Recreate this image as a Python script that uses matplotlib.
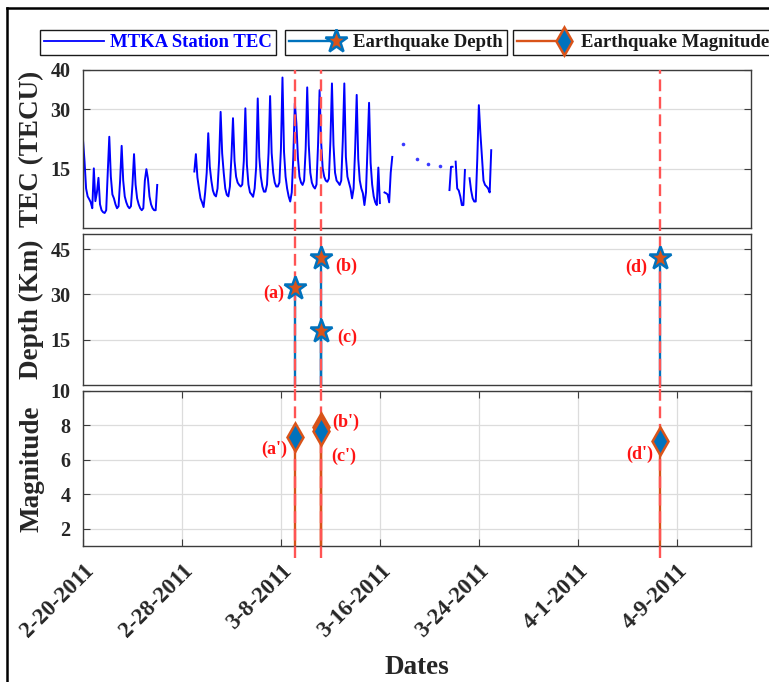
import numpy as np
import pandas as pd
import matplotlib
matplotlib.use('Agg')
import matplotlib.pyplot as plt
from matplotlib.lines import Line2D
from matplotlib.legend_handler import HandlerLine2D

plt.rcParams['font.family'] = ['Liberation Serif', 'DejaVu Serif']
plt.rcParams['font.weight'] = 'bold'
plt.rcParams['axes.labelweight'] = 'bold'

# ---------------- data ----------------
nan = np.nan
tec_step = '3h'
tec_seg1_start = '2011-02-20 00:00'
tec_seg1 = [22.3, 16.8, 10.0, 8.0, 7.3, 6.5, 5.0, 15.1,
            6.8, 9.0, 12.7, 6.0, 4.5, 4.0, 3.8, 4.5,
            14.0, 23.1, 13.0, 8.5, 7.5, 6.0, 5.0, 5.5,
            12.0, 20.8, 12.0, 8.0, 6.5, 5.5, 5.0, 5.5,
            11.0, 18.7, 11.0, 7.5, 6.0, 5.0, 4.5, 5.0,
            12.0, 14.9, 12.5, 8.0, 6.0, 5.0, 4.5, 4.5,
            10.9]
tec_seg2_start = '2011-03-01 00:00'
tec_seg2 = [14.3, 18.7, 12.8, 10.0, 7.5, 6.5, 5.3, 9.0,
            14.0, 24.0, 15.5, 12.0, 9.5, 8.4, 8.0, 10.0,
            17.0, 29.4, 18.9, 14.0, 10.0, 8.4, 8.0, 10.5,
            18.0, 27.8, 17.0, 13.0, 11.5, 10.9, 10.5, 11.0,
            17.0, 30.3, 16.0, 11.0, 9.0, 8.5, 7.9, 10.0,
            15.5, 32.8, 18.0, 13.0, 10.5, 9.2, 9.2, 11.0,
            19.0, 33.4, 19.0, 14.0, 11.5, 10.5, 10.5, 11.5,
            20.0, 38.1, 19.3, 13.0, 10.0, 8.0, 6.7, 9.0,
            18.0, 31.6, 26.5, 17.7, 13.0, 11.5, 10.9, 12.0,
            20.0, 35.6, 21.0, 14.0, 11.5, 10.5, 10.0, 11.0,
            21.0, 34.9, 21.8, 15.1, 13.0, 12.0, 11.7, 12.5,
            22.0, 36.6, 21.0, 14.0, 12.0, 11.5, 10.9, 12.0,
            22.0, 36.6, 18.0, 13.0, 11.5, 10.0, 7.5, 10.0,
            20.0, 33.7, 17.5, 12.0, 10.0, 8.8, 5.8, 9.0,
            20.0, 31.7, 16.5, 11.0, 8.0, 6.5, 5.8, 15.3,
            6.3, nan, nan, 9.0, 8.8, 8.5, 6.5, 14.0,
            18.0]
tec_seg3_start = '2011-03-21 15:00'
tec_seg3 = [9.6, 15.5, 15.5, nan, 16.8, 10.0, 9.5, 8.0, 5.8, 5.8,
            14.7, nan, nan, 12.6, 9.5, 7.5, 6.7, 6.7, 17.6, 31.1,
            24.0, 18.0, 12.0, 10.9, 10.5, 10.0, 9.0, 19.7]
tec_dot_times = ['2011-03-17 21:00', '2011-03-19 00:00', '2011-03-19 21:00', '2011-03-20 21:00']
tec_dot_values = [21.3, 17.4, 16.1, 15.7]

eq_times = ['2011-03-09 02:45', '2011-03-11 05:46', '2011-03-11 05:46', '2011-04-07 14:32']
eq_depth = [32, 42, 18, 42]
eq_mag = [7.3, 7.9, 7.7, 7.1]
depth_labels = ['(a)', '(b)', '(c)', '(d)']
mag_labels = ["(a')", "(b')", "(c')", "(d')"]

x_range = ['2011-02-20', '2011-04-15']
xtick_dates = ['2011-02-20', '2011-02-28', '2011-03-08', '2011-03-16',
               '2011-03-24', '2011-04-01', '2011-04-09']
xtick_labels = ['2-20-2011', '2-28-2011', '3-8-2011', '3-16-2011',
                '3-24-2011', '4-1-2011', '4-9-2011']
tec_yticks = [15, 30, 40]
depth_yticks = [15, 30, 45]
mag_yticks = [2, 4, 6, 8, 10]
tec_ylim = (0, 40)
depth_ylim = (0, 50)
mag_ylim = (1, 10)

legend_texts = ['MTKA Station TEC', 'Earthquake Depth', 'Earthquake Magnitude']
ylabels = ['TEC (TECU)', 'Depth (Km)', 'Magnitude']
xlabel = 'Dates'

# ---------------- style ----------------
BLUE = '#0072BD'
ORANGE = '#D95319'
DASH_RED = (1.0, 0.33, 0.33)
LABEL_RED = '#ff1414'
TXT = '#262626'
SPINE = '#3c3c3c'
GRID = '#dcdcdc'

W, H = 769, 682
fig = plt.figure(figsize=(W / 100, H / 100), dpi=100)


def rect(l, t, r, b):
    return [l / W, 1 - b / H, (r - l) / W, (b - t) / H]


ax1 = fig.add_axes(rect(83, 70, 751, 228))
ax2 = fig.add_axes(rect(83, 234, 751, 385))
ax3 = fig.add_axes(rect(83, 391, 751, 546))

xlo, xhi = pd.Timestamp(x_range[0]), pd.Timestamp(x_range[1])
for ax in (ax1, ax2, ax3):
    ax.set_xlim(xlo, xhi)
    for s in ax.spines.values():
        s.set_color(SPINE)
        s.set_linewidth(1.0)
    ax.tick_params(axis='y', which='both', direction='in', left=True, right=True,
                   length=5, width=0.8, color=SPINE, labelsize=14.5,
                   labelcolor=TXT, pad=9)
    ax.grid(axis='y', color=GRID, lw=0.9)
    ax.set_axisbelow(True)

for ax in (ax1, ax2):
    ax.tick_params(axis='x', which='both', bottom=False, top=False,
                   labelbottom=False)

# ---- TEC ----
def seg_times(start, n):
    return pd.date_range(start, periods=n, freq=tec_step)

tec_kw = dict(color='#0000ff', lw=1.4, zorder=2)
ax1.plot(seg_times(tec_seg1_start, len(tec_seg1)), tec_seg1, **tec_kw)
ax1.plot(seg_times(tec_seg2_start, len(tec_seg2)), tec_seg2, **tec_kw)
ax1.plot(seg_times(tec_seg3_start, len(tec_seg3)), tec_seg3, **tec_kw)
ax1.plot(pd.to_datetime(tec_dot_times), tec_dot_values, linestyle='none',
         marker='o', ms=2.6, mew=0, color='#3a3aff', zorder=2)
ax1.set_ylim(*tec_ylim)
ax1.set_yticks(tec_yticks)

eq_t = pd.to_datetime(eq_times)
unique_t = sorted(set(eq_t))

# ---- Depth ----
ax2.vlines(eq_t, depth_ylim[0], eq_depth, color=BLUE, lw=1.7, zorder=2)
ax2.plot(eq_t, eq_depth, linestyle='none', marker='*', ms=17, mfc=ORANGE,
         mec=BLUE, mew=1.8, zorder=5, clip_on=False)
ax2.set_ylim(*depth_ylim)
ax2.set_yticks(depth_yticks)

# ---- Magnitude ----
ax3.vlines(eq_t, mag_ylim[0], eq_mag, color=ORANGE, lw=1.7, zorder=2)
ax3.plot(eq_t, eq_mag, linestyle='none', marker='d', ms=14, mfc=BLUE,
         mec=ORANGE, mew=1.8, zorder=5, clip_on=False)
ax3.set_ylim(*mag_ylim)
ax3.set_yticks(mag_yticks)
ax3.set_xticks(pd.to_datetime(xtick_dates))
ax3.set_xticklabels(xtick_labels)
ax3.tick_params(axis='x', which='both', direction='in', top=True, bottom=True,
                length=5, width=0.8, color=SPINE, labelsize=16.5,
                labelcolor=TXT, pad=10)
plt.setp(ax3.get_xticklabels(), rotation=45, ha='right', va='top',
         rotation_mode='anchor')
ax3.grid(axis='x', color=GRID, lw=0.9)

# ---- dashed event lines ----
dash_kw = dict(color=DASH_RED, lw=1.7, dashes=(5, 2.4), zorder=3, clip_on=False)
for t in unique_t:
    ax1.axvline(t, ymin=-0.02, ymax=1.0, **dash_kw)
    ax2.axvline(t, ymin=-0.02, ymax=1.02, **dash_kw)
    ax3.axvline(t, ymin=-0.075, ymax=1.02, **dash_kw)

# ---- event labels ----
depth_offsets = [(-15.3, -3.6), (18, -5.8), (18.7, -5), (-16.8, -6.5)]
mag_offsets = [(-14.6, -8.6), (18, 3.4), (16.6, -18.3), (-14.6, -10)]
for t, v, lab, off in zip(eq_t, eq_depth, depth_labels, depth_offsets):
    ax2.annotate(lab, (t, v), xytext=off, textcoords='offset points',
                 ha='center', va='center', color=LABEL_RED, fontsize=13,
                 fontweight='bold', zorder=6)
for t, v, lab, off in zip(eq_t, eq_mag, mag_labels, mag_offsets):
    ax3.annotate(lab, (t, v), xytext=off, textcoords='offset points',
                 ha='center', va='center', color=LABEL_RED, fontsize=13,
                 fontweight='bold', zorder=6)

# ---- axis labels ----
for ax, lab in zip((ax1, ax2, ax3), ylabels):
    ax.set_ylabel(lab, fontsize=19.5, color=TXT, fontweight='bold')
    ax.yaxis.set_label_coords(-0.058, 0.5)
ax3.set_xlabel(xlabel, fontsize=19.5, color=TXT, fontweight='bold')
ax3.xaxis.set_label_coords(0.5, -0.70)

# ---- legends ----
class EndMarker(HandlerLine2D):
    def create_artists(self, legend, orig_handle, xdescent, ydescent, width,
                       height, fontsize, trans):
        arts = super().create_artists(legend, orig_handle, xdescent, ydescent,
                                      width, height, fontsize, trans)
        for a in arts:
            a.set_markevery([2])
        return arts


h_tec = Line2D([], [], color='#0000ff', lw=1.3)
h_dep = Line2D([], [], color=BLUE, lw=1.7, marker='*', ms=17, mfc=ORANGE,
               mec=BLUE, mew=1.8)
h_mag = Line2D([], [], color=ORANGE, lw=1.7, marker='d', ms=14, mfc=BLUE,
               mec=ORANGE, mew=1.8)

leg_common = dict(loc='upper left', frameon=True, fancybox=False,
                  framealpha=1, borderaxespad=0, borderpad=0.22,
                  prop=dict(family='Liberation Serif', weight='bold', size=13.5),
                  numpoints=1, handler_map={Line2D: EndMarker(numpoints=1)})
legs = []
for h, txt, x0, hl, htp in [(h_tec, legend_texts[0], 40, 3.2, 0.3),
                            (h_dep, legend_texts[1], 285, 2.5, 0.9),
                            (h_mag, legend_texts[2], 513, 2.5, 0.9)]:
    lg = fig.legend([h], [txt], bbox_to_anchor=(x0 / W, 1 - 30 / H),
                    handlelength=hl, handletextpad=htp, **leg_common)
    lg.get_frame().set_edgecolor('#1a1a1a')
    lg.get_frame().set_linewidth(1.0)
    legs.append(lg)
legs[0].get_texts()[0].set_color('#0000ff')
for lg in legs[1:]:
    lg.get_texts()[0].set_color('#1a1a1a')

# ---- figure border ----
fig.add_artist(Line2D([7 / W, 7 / W], [0, 1 - 8 / H], transform=fig.transFigure,
                      color='black', lw=1.8))
fig.add_artist(Line2D([7 / W, 1], [1 - 8 / H, 1 - 8 / H], transform=fig.transFigure,
                      color='black', lw=1.8))

fig.savefig('out.png', dpi=100)
